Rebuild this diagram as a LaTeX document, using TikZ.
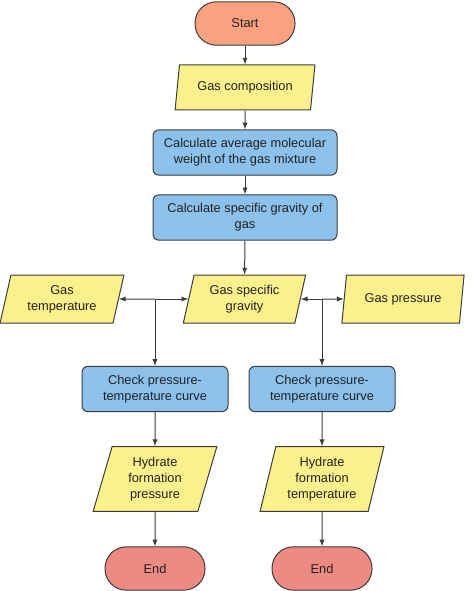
\documentclass[tikz,border=0pt]{standalone}
\usepackage{fontspec}
\setmainfont{Liberation Sans}
\usetikzlibrary{shapes.geometric}
\definecolor{StartSalmon}{RGB}{250, 162, 128}
\definecolor{EndRose}{RGB}{238, 138, 132}
\definecolor{InputYellow}{RGB}{252, 240, 140}
\definecolor{StepBlue}{RGB}{139, 193, 235}
\definecolor{EdgeGray}{RGB}{60, 60, 60}
\definecolor{TextGray}{RGB}{34, 34, 34}

\begin{document}
\begin{tikzpicture}[x=0.75pt, y=-0.75pt,
    font=\fontsize{9.6}{12}\selectfont, text=TextGray,
    terminal/.style={draw=EdgeGray, line width=0.75pt, rectangle, rounded corners=16pt,
        minimum width=75pt, minimum height=32.5pt},
    process/.style={draw=EdgeGray, fill=StepBlue, line width=0.75pt, rectangle,
        rounded corners=4.5pt, align=center, minimum height=34pt},
    inout/.style={draw=EdgeGray, fill=InputYellow, line width=0.75pt, trapezium,
        trapezium left angle=75, trapezium right angle=105, trapezium stretches=true,
        align=center, inner sep=0pt},
    arr/.style={-latex, EdgeGray, line width=0.75pt}]
    \useasboundingbox (0,0) rectangle (472,591);

    % main column
    \node[terminal, fill=StartSalmon] (start) at (245,23.5) {Start};
    \node[inout, minimum width=105pt, minimum height=33.75pt] (comp) at (245,87.5) {Gas composition};
    \node[process, minimum width=138pt] (avgmw) at (245,152.5) {Calculate average molecular\\weight of the gas mixture};
    \node[process, minimum width=138pt] (sgcalc) at (245,217.5) {Calculate specific gravity of\\gas};

    % inputs row
    \node[inout, minimum width=93pt, minimum height=36pt] (gastemp) at (62,299) {Gas\\temperature};
    \node[inout, minimum width=92pt, minimum height=36pt] (gassg) at (244.5,299) {Gas specific\\gravity};
    \node[inout, minimum width=92pt, minimum height=36pt] (gaspres) at (403,299) {Gas pressure};

    % two branches
    \node[process, minimum width=109.5pt] (checkl) at (155,389) {Check pressure-\\temperature curve};
    \node[process, minimum width=109.5pt] (checkr) at (322,389) {Check pressure-\\temperature curve};
    \node[inout, minimum width=93pt, minimum height=48.5pt] (hydp) at (155,479) {Hydrate\\formation\\pressure};
    \node[inout, minimum width=93pt, minimum height=48.5pt] (hydt) at (322,479) {Hydrate\\formation\\temperature};
    \node[terminal, fill=EndRose] (endl) at (155,568.5) {End};
    \node[terminal, fill=EndRose] (endr) at (322,568.5) {End};

    \coordinate (jl) at (checkl.north |- gassg.west);
    \coordinate (jr) at (checkr.north |- gassg.east);

    \draw[arr] (start) -- (comp);
    \draw[arr] (comp) -- (avgmw);
    \draw[arr] (avgmw) -- (sgcalc);
    \draw[arr] (sgcalc) -- (gassg);
    \draw[arr] (jl) -- (gastemp.east);
    \draw[arr] (jl) -- (gassg.west);
    \draw[arr] (jl) -- (checkl);
    \draw[arr] (jr) -- (gassg.east);
    \draw[arr] (jr) -- (gaspres.west);
    \draw[arr] (jr) -- (checkr);
    \draw[arr] (checkl) -- (hydp);
    \draw[arr] (hydp) -- (endl);
    \draw[arr] (checkr) -- (hydt);
    \draw[arr] (hydt) -- (endr);
\end{tikzpicture}
\end{document}
